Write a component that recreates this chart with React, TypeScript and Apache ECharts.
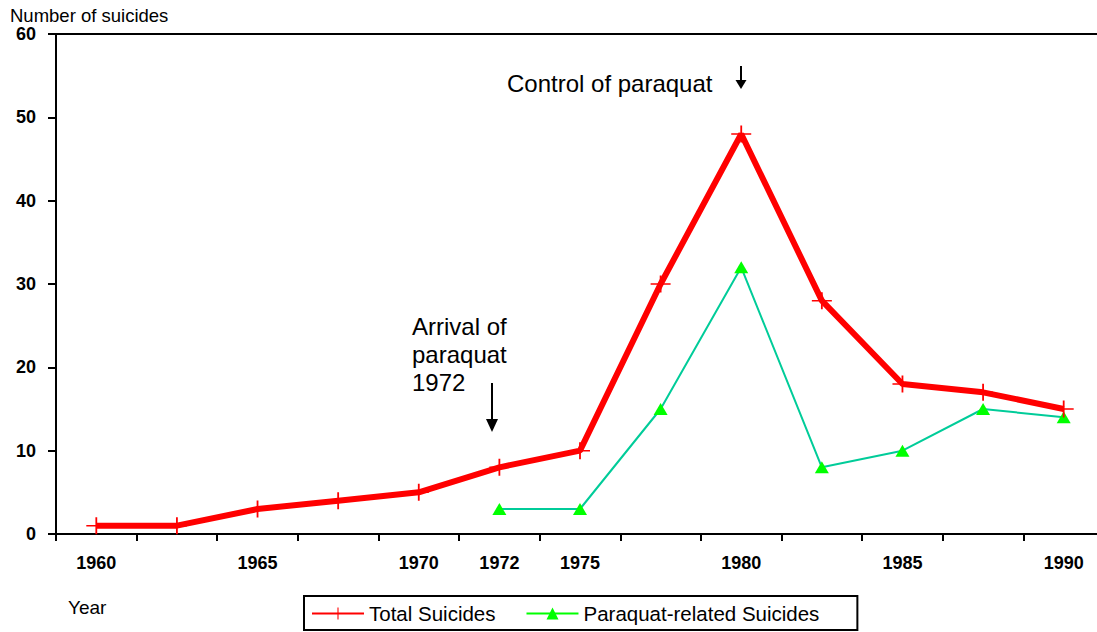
import React, { useEffect, useRef } from 'react';
import * as echarts from 'echarts';

// ---- Data ----
const yearLabels = ['1960', '', '1965', '', '1970', '1972', '1975', '', '1980', '', '1985', '', '1990'];
const totalSuicides = [1, 1, 3, 4, 5, 8, 10, 30, 48, 28, 18, 17, 15];
const paraquatSuicides = [null, null, null, null, null, 3, 3, 15, 32, 8, 10, 15, 14];
const yMin = 0;
const yMax = 60;
const yInterval = 10;
const seriesNames = ['Total Suicides', 'Paraquat-related Suicides'];

const FONT = "'Liberation Sans', Arial, Helvetica, sans-serif";
const PLUS = 'path://M0,4.55H10V5.45H0Z M4.55,0H5.45V10H4.55Z';

export default function App() {
  const ref = useRef<HTMLDivElement>(null);

  useEffect(() => {
    if (!ref.current) return;
    const chart = echarts.init(ref.current, undefined, { renderer: 'svg' });
    const option: any = {
      animation: false,
      backgroundColor: '#fff',
      grid: {
        left: 56,
        top: 34,
        right: 6,
        bottom: 98,
        show: true,
        borderColor: '#000',
        borderWidth: 2,
        backgroundColor: 'transparent',
      },
      xAxis: {
        type: 'category',
        data: yearLabels,
        boundaryGap: true,
        axisLine: { lineStyle: { color: '#000', width: 2 } },
        axisTick: { show: true, interval: 0, length: 7, lineStyle: { color: '#000', width: 2 } },
        axisLabel: {
          interval: 0,
          margin: 20,
          color: '#000',
          fontSize: 18,
          fontWeight: 'bold',
          fontFamily: FONT,
        },
        splitLine: { show: false },
      },
      yAxis: {
        type: 'value',
        min: yMin,
        max: yMax,
        interval: yInterval,
        axisLine: { show: true, lineStyle: { color: '#000', width: 2 } },
        axisTick: { show: true, length: 8, lineStyle: { color: '#000', width: 2 } },
        axisLabel: {
          margin: 20,
          color: '#000',
          fontSize: 18,
          fontWeight: 'bold',
          fontFamily: FONT,
        },
        splitLine: { show: false },
      },
      legend: {
        left: 304,
        top: 596,
        orient: 'horizontal',
        padding: [7, 38, 6, 7],
        itemGap: 30,
        itemWidth: 52,
        itemHeight: 15,
        borderColor: '#000',
        borderWidth: 2,
        borderRadius: 0,
        textStyle: { fontSize: 20.5, color: '#000', fontFamily: FONT },
        data: [
          { name: seriesNames[0] },
          { name: seriesNames[1], lineStyle: { color: '#00FF00' } },
        ],
      },
      series: [
        {
          name: seriesNames[0],
          type: 'line',
          data: totalSuicides,
          symbol: PLUS,
          symbolSize: [20, 17],
          showAllSymbol: true,
          lineStyle: { color: '#FF0000', width: 6 },
          itemStyle: { color: '#FF0000' },
          z: 3,
        },
        {
          name: seriesNames[1],
          type: 'line',
          data: paraquatSuicides,
          symbol: 'triangle',
          symbolSize: [14, 12],
          showAllSymbol: true,
          lineStyle: { color: '#00CC99', width: 2 },
          itemStyle: { color: '#00FF00' },
          z: 2,
        },
      ],
      graphic: [
        {
          type: 'text',
          x: 10,
          y: 15,
          style: { text: 'Number of suicides', fontSize: 18.5, fontFamily: FONT, fill: '#000', verticalAlign: 'middle', align: 'left' },
        },
        {
          type: 'text',
          x: 68,
          y: 607,
          style: { text: 'Year', fontSize: 19, fontFamily: FONT, fill: '#000', verticalAlign: 'middle', align: 'left' },
        },
        {
          type: 'text',
          x: 507,
          y: 83,
          style: { text: 'Control of paraquat', fontSize: 24, fontFamily: FONT, fill: '#000', verticalAlign: 'middle', align: 'left' },
        },
        {
          type: 'text',
          x: 412,
          y: 312,
          style: {
            text: 'Arrival of\nparaquat\n1972',
            fontSize: 24,
            lineHeight: 28,
            fontFamily: FONT,
            fill: '#000',
            verticalAlign: 'top',
            align: 'left',
          },
        },
        {
          type: 'line',
          shape: { x1: 741, y1: 66, x2: 741, y2: 82 },
          style: { stroke: '#000', lineWidth: 2 },
        },
        {
          type: 'polygon',
          shape: { points: [[735.5, 80], [746.5, 80], [741, 89]] },
          style: { fill: '#000' },
        },
        {
          type: 'line',
          shape: { x1: 492, y1: 383, x2: 492, y2: 422 },
          style: { stroke: '#000', lineWidth: 2 },
        },
        {
          type: 'polygon',
          shape: { points: [[486, 419], [498, 419], [492, 432]] },
          style: { fill: '#000' },
        },
      ],
    };
    chart.setOption(option);
    return () => chart.dispose();
  }, []);

  return (
    <div style={{ position: 'absolute', left: 0, top: 0, width: 1097, height: 632, overflow: 'hidden' }}>
      <div ref={ref} style={{ position: 'absolute', left: 0, top: 0, width: 1110, height: 632 }} />
    </div>
  );
}
